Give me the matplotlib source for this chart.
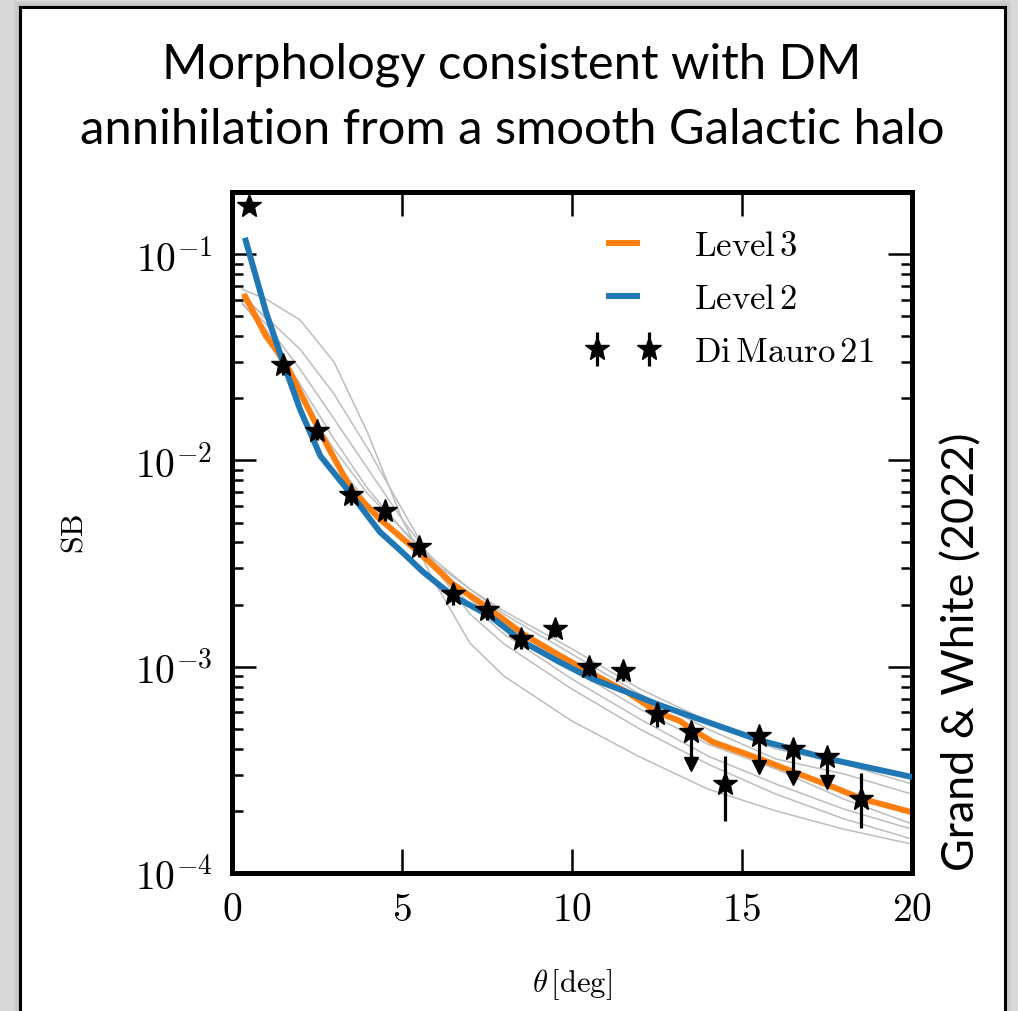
import numpy as np
import matplotlib
matplotlib.use("Agg")
import matplotlib.pyplot as plt
from matplotlib.patches import Rectangle
from matplotlib.container import ErrorbarContainer
from matplotlib.legend_handler import HandlerErrorbar
from matplotlib.ticker import LogLocator, LogFormatterSciNotation, NullFormatter, FixedLocator

plt.rcParams['font.family'] = 'cmr10'
plt.rcParams['mathtext.fontset'] = 'cm'
plt.rcParams['axes.unicode_minus'] = False
plt.rcParams['axes.formatter.use_mathtext'] = True

# ---------------- data ----------------
title_line1 = "Morphology consistent with DM"
title_line2 = "annihilation from a smooth Galactic halo"
side_text = "Grand & White (2022)"

# Level 3 (orange)
theta_l3 = [0.35, 1.0, 1.56, 2.59, 3.5, 4.35, 5.62, 6.5, 7.59, 8.56, 9.65, 10.62,
            11.62, 12.5, 13.18, 13.5, 14.15, 15.53, 17.6, 18.56, 20.0]
sb_l3 = [0.064, 0.040, 0.030, 0.0137, 0.00726, 0.00519, 0.00344, 0.00251, 0.00190,
         0.00144, 0.00113, 0.00092, 0.000753, 0.000603, 0.000545, 0.000499, 0.000431,
         0.000357, 0.000264, 0.000228, 0.000197]

# Level 2 (blue)
theta_l2 = [0.38, 1.0, 1.5, 2.0, 2.6, 3.5, 4.35, 5.0, 5.62, 6.5, 7.59, 8.56, 9.65,
            10.62, 11.62, 12.5, 13.18, 15.5, 17.6, 20.0]
sb_l2 = [0.120, 0.0524, 0.030, 0.0177, 0.0105, 0.00687, 0.0045, 0.0036, 0.00288,
         0.00220, 0.00176, 0.00132, 0.00105, 0.00087, 0.000753, 0.000659, 0.000600,
         0.000441, 0.000356, 0.000292]

# other haloes (grey)
theta_grey = [0.3, 1, 2, 3, 4, 5, 6, 7, 8, 10, 12, 14, 16, 18, 20]
sb_grey1 = [0.0676, 0.0605, 0.048, 0.030, 0.0135, 0.0052, 0.0025, 0.0013, 0.00090,
            0.000545, 0.000365, 0.000255, 0.000200, 0.000163, 0.000138]
sb_grey2 = [0.0619, 0.0495, 0.0346, 0.0210, 0.01135, 0.00581, 0.00297, 0.00180, 0.00129,
            0.000779, 0.000498, 0.000337, 0.000241, 0.000183, 0.000146]
sb_grey3 = [0.0605, 0.0458, 0.0277, 0.0159, 0.00908, 0.00519, 0.00314, 0.00213, 0.00152,
            0.000973, 0.000623, 0.000421, 0.000319, 0.000228, 0.000173]
sb_grey4 = [0.0572, 0.0433, 0.0234, 0.0127, 0.00726, 0.00465, 0.00325, 0.00238, 0.00180,
            0.00115, 0.000736, 0.000498, 0.000357, 0.000302, 0.000241]
sb_grey5 = [0.0640, 0.0484, 0.0210, 0.01015, 0.00614, 0.00425, 0.00314, 0.00238, 0.00186,
            0.00122, 0.000779, 0.000545, 0.000399, 0.000337, 0.000270]
sb_grey6 = [0.0585, 0.0409, 0.0198, 0.01135, 0.00687, 0.00465, 0.00297, 0.00201, 0.00144,
            0.000871, 0.000557, 0.000369, 0.000270, 0.000204, 0.000163]

# Di Mauro 21 data
theta_dm = [0.5, 1.5, 2.5, 3.5, 4.5, 5.5, 6.5, 7.5, 8.5, 9.5, 10.5, 11.5, 12.5,
            13.5, 14.5, 15.5, 16.5, 17.5, 18.5]
sb_dm = [0.171, 0.029, 0.0139, 0.00679, 0.00568, 0.0038, 0.00225, 0.00188, 0.00136,
         0.00152, 0.00100, 0.000953, 0.000589, 0.000482, 0.000270, 0.000461, 0.000398,
         0.000365, 0.000228]
sb_dm_low = [0.160, 0.026, 0.0125, 0.0061, 0.0051, 0.0034, 0.0020, 0.00168, 0.00122,
             0.00140, 0.00090, 0.00085, 0.00051, 0.000337, 0.000179, 0.000326, 0.000290,
             0.000276, 0.000165]
sb_dm_high = [0.182, 0.032, 0.0153, 0.0075, 0.0063, 0.0042, 0.0025, 0.00208, 0.00150,
              0.00164, 0.00110, 0.00105, 0.00067, 0.000482, 0.000369, 0.000461, 0.000398,
              0.000365, 0.000307]
upper_limit = [False] * 13 + [True, False, True, True, True, False]

x_ticks = [0, 5, 10, 15, 20]

# ---------------- figure ----------------
W, H = 1018, 1012
fig = plt.figure(figsize=(W / 100, H / 100), dpi=100)
fig.patch.set_facecolor('#d9d9d9')

# slide box with a faint shadow
for i, c in enumerate(['#cfcfcf', '#c8c8c8', '#c2c2c2']):
    off = (3 - i) * 2
    fig.add_artist(Rectangle(((20 - off) / W, -0.05), (985 + 2 * off) / W, 1.05 - (8 - off) / H,
                             transform=fig.transFigure, facecolor=c, edgecolor='none',
                             zorder=-3 + i * 0.1))
fig.add_artist(Rectangle((20 / W, -0.05), 985 / W, 1.05 - 8 / H, transform=fig.transFigure,
                         facecolor='white', edgecolor='black', linewidth=2.2, zorder=-2))

fig.text(512 / W, 1 - 65 / H, title_line1, ha='center', va='center', fontsize=35.3,
         family='Lato')
fig.text(512 / W, 1 - 130 / H, title_line2, ha='center', va='center', fontsize=35.3,
         family='Lato')
fig.text(962 / W, 1 - 652 / H, side_text, ha='center', va='center', rotation=90,
         fontsize=32.3, family='Lato')

ax = fig.add_axes([232 / W, 1 - 874 / H, 680 / W, 681 / H])

grey_c = '#bdbdbd'
for g in [sb_grey1, sb_grey2, sb_grey3, sb_grey4, sb_grey5, sb_grey6]:
    ax.plot(theta_grey, g, color=grey_c, lw=1.1, zorder=1)

l3, = ax.plot(theta_l3, sb_l3, color='#ff7f0e', lw=4.3, zorder=2, solid_capstyle='butt',
              label=r'$\mathrm{Level\,3}$')
l2, = ax.plot(theta_l2, sb_l2, color='#1f77b4', lw=4.3, zorder=3, solid_capstyle='butt',
              label=r'$\mathrm{Level\,2}$')

y = np.array(sb_dm)
yerr = [y - np.array(sb_dm_low), np.array(sb_dm_high) - y]
eb = ax.errorbar(theta_dm, sb_dm, yerr=yerr, fmt='*', color='black', ms=18,
                 elinewidth=2.3, capsize=0, zorder=5, label=r'$\mathrm{Di\,Mauro\,21}$')
ul = np.array(upper_limit)
ax.plot(np.array(theta_dm)[ul], np.array(sb_dm_low)[ul], 'v', color='black', ms=10,
        zorder=5)

ax.set_yscale('log')
ax.set_xlim(0, 20)
ax.set_ylim(1e-4, 0.2)
ax.xaxis.set_major_locator(FixedLocator(x_ticks))
ax.yaxis.set_major_locator(LogLocator(base=10, numticks=10))
ax.yaxis.set_minor_locator(LogLocator(base=10, subs=np.arange(2, 10), numticks=20))
ax.yaxis.set_major_formatter(LogFormatterSciNotation())
ax.yaxis.set_minor_formatter(NullFormatter())

for s in ax.spines.values():
    s.set_linewidth(3.6)
ax.tick_params(which='both', direction='in', top=True, right=True, labelsize=28.5)
ax.tick_params(which='major', length=17, width=1.8)
ax.tick_params(which='minor', length=8, width=1.8)
ax.tick_params(axis='x', pad=14)
ax.tick_params(axis='y', pad=14)

ax.set_xlabel(r'$\theta\,[\mathrm{deg}]$', fontsize=22, labelpad=27)
ax.set_ylabel(r'$\mathrm{SB}$', fontsize=23, labelpad=33)

leg = ax.legend(handles=[l3, l2, eb], loc='upper right', bbox_to_anchor=(0.99, 0.99),
                frameon=False, fontsize=25, numpoints=2, handlelength=1.6,
                labelspacing=0.62, handletextpad=1.25,
                handler_map={ErrorbarContainer: HandlerErrorbar(marker_pad=0.05,
                                                                numpoints=2)})

fig.savefig('out.png', dpi=100, facecolor=fig.get_facecolor())
